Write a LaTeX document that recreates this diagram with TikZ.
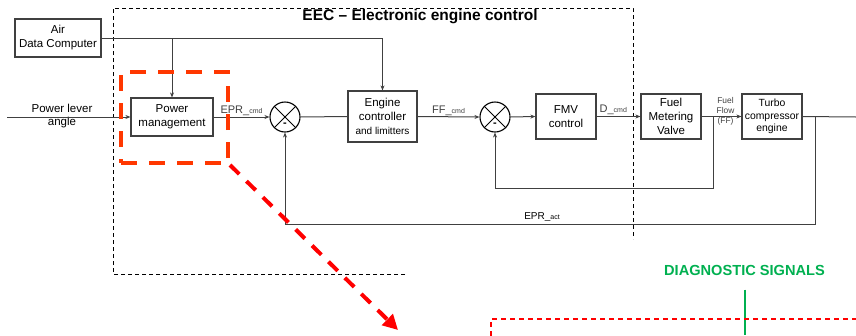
\documentclass[tikz,border=0pt]{standalone}
\usepackage{fontspec}
\setmainfont{Liberation Sans}
\usetikzlibrary{arrows.meta, positioning, calc}
\definecolor{linegray}{RGB}{64,64,64}
\definecolor{hlred}{RGB}{255,55,0}
\definecolor{diaggreen}{RGB}{0,176,80}

\begin{document}
\begin{tikzpicture}[x=1pt, y=-1pt,
  blk/.style={draw=linegray, line width=1.2pt, align=center, inner sep=0pt, font=\fontsize{11.5}{14}\selectfont},
  sumj/.style={circle, draw=black, line width=1.1pt, minimum size=30pt, inner sep=0pt},
  crossline/.style={black, line width=1pt},
  minus/.style={font=\bfseries\fontsize{11}{11}\selectfont, inner sep=0pt},
  sig/.style={linegray, line width=1pt, -{Stealth[length=5pt, width=4pt]}},
  wire/.style={linegray, line width=1pt},
  lbl/.style={font=\fontsize{11}{13}\selectfont, inner sep=1pt},
  eecline/.style={black, line width=0.9pt, dash pattern=on 4pt off 3pt},
  hlbox/.style={draw=hlred, line width=4pt, dash pattern=on 16pt off 12pt, minimum width=107pt, minimum height=91pt},
  hlarrow/.style={red, line width=4pt, dash pattern=on 13pt off 10pt, -{Triangle[length=15pt, width=15pt]}},
  diagbox/.style={red, line width=2pt, dash pattern=on 5pt off 4pt},
  diagline/.style={diaggreen, line width=2pt}]
\useasboundingbox (0,0) rectangle (856,335);
% EEC frame
\draw[eecline] (405,274) -- (113,274) -- (113,8) -- (633,8) -- (633,239);
\node[font=\bfseries\fontsize{15.5}{18}\selectfont] (eec) at (420,17) {EEC -- Electronic engine control};
% blocks
\node[blk, minimum width=86pt, minimum height=38pt] (adc) at (58,38) {Air\\Data Computer};
\node[blk, minimum width=82pt, minimum height=38pt] (pm) at (172,117) {Power\\management};
\node[sumj] (s1) at (285,117) {};
\node[blk, minimum width=69pt, minimum height=51pt] (ec) at (382.5,116.5) {Engine\\controller\\{\fontsize{10}{12}\selectfont and limitters}};
\node[sumj] (s2) at (495,117) {};
\node[blk, minimum width=60pt, minimum height=45pt] (fmvc) at (566,116.5) {FMV\\control};
\node[blk, minimum width=60pt, minimum height=45pt] (fmv) at (671,116.5) {Fuel\\Metering\\Valve};
\node[blk, minimum width=60pt, minimum height=45pt, font=\fontsize{10.4}{12.5}\selectfont] (turbo) at (772,116.5) {Turbo\\compressor\\engine};
% summing junctions
\draw[crossline] (s1.north east) -- (s1.south west) (s1.north west) -- (s1.south east);
\draw[crossline] (s2.north east) -- (s2.south west) (s2.north west) -- (s2.south east);
\node[minus] (m1) at ([yshift=-8pt]s1.center) {-};
\node[minus] (m2) at ([yshift=-8pt]s2.center) {-};
% signals
\coordinate (pla) at (7,117);
\coordinate (out) at (856,117);
\coordinate (t1) at (713,117);
\coordinate (t2) at (815,117);
\node[align=center, font=\fontsize{11.5}{13}\selectfont] (plalbl) at (62,116.5) {Power lever\\angle};
\draw[sig] (pla) -- (pm.west);
\draw[sig] (adc.east) -| (pm.north);
\draw[sig] (adc.east) -| (ec.north);
\draw[sig] (pm.east) -- node[lbl, above] {EPR\_{\fontsize{7}{8}\selectfont cmd}} (s1.west);
\draw[wire] (s1.east) -- (ec.west);
\draw[sig] (ec.east) -- node[lbl, above] {FF\_{\fontsize{7}{8}\selectfont cmd}} (s2.west);
\draw[sig] (s2.east) -- (fmvc.west);
\draw[sig] (fmvc.east) -- node[lbl, above, pos=0.38] {D\_{\fontsize{7}{8}\selectfont cmd}} (fmv.west);
\draw[sig] (fmv.east) -- node[align=center, font=\fontsize{8.4}{9.8}\selectfont, inner sep=0pt, yshift=5pt, xshift=4pt] (fflbl) {Fuel\\Flow\\(FF)} (turbo.west);
\draw[wire] (turbo.east) -- (out);
\draw[sig] (t1) -- ++(0,71) -| (s2.south);
\draw[sig] (t2) -- ++(0,107) -| (s1.south);
\node[font=\fontsize{10}{12}\selectfont] (epract) at (542,217) {EPR\_{\fontsize{7}{8}\selectfont act}};
% highlight of power management
\node[hlbox] (hl) at (174.5,117.5) {};
\coordinate (hltip) at (398,330);
\draw[hlarrow] (hl.south east) -- (hltip);
% diagnostic signals
\node[font=\bfseries\fontsize{14.6}{16}\selectfont, text=diaggreen] (dsig) at (744.5,270) {DIAGNOSTIC SIGNALS};
\coordinate (dsbot) at (744.5,335);
\draw[diagline, shorten <=11pt] (dsig.south) -- (dsbot);
\draw[diagbox] (491,336) -- (491,319) -- (857,319);
\end{tikzpicture}
\end{document}
